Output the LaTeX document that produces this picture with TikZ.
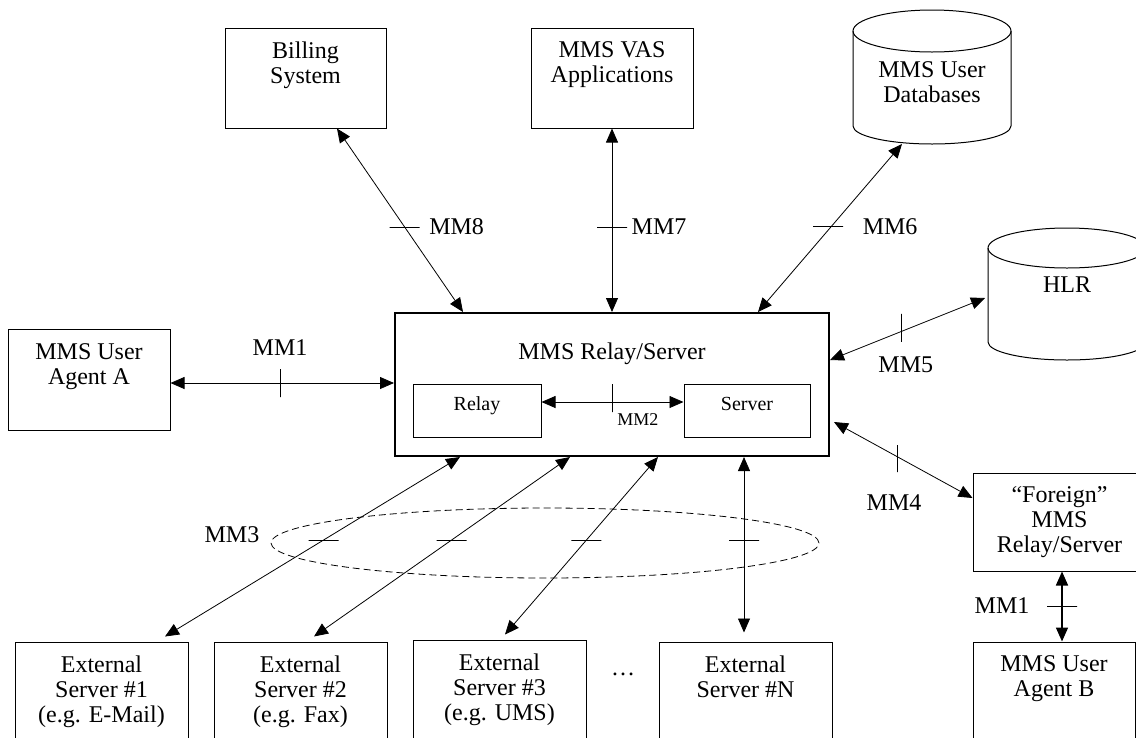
\documentclass[tikz,border=0pt]{standalone}
\usepackage{fontspec}
\setmainfont{Liberation Serif}
\usetikzlibrary{shapes.geometric, arrows.meta, positioning}

\newcommand{\padline}{\rule[-6pt]{0pt}{6pt}}

\begin{document}
\begin{tikzpicture}[
    x=1pt, y=-1pt,
    font=\fontsize{24}{25}\selectfont,
    box/.style={rectangle, draw, line width=1pt, minimum width=162pt, minimum height=100pt, align=center, inner sep=0pt},
    extbox/.style={box, minimum width=173pt},
    mainbox/.style={rectangle, draw, line width=2pt, minimum width=434pt, minimum height=143pt},
    subbox/.style={rectangle, draw, line width=1pt, minimum height=53pt, font=\fontsize{20}{22}\selectfont, text height=14pt, text depth=15pt},
    database/.style={rectangle, minimum width=158pt, minimum height=134pt, inner sep=0pt, outer sep=0pt},
    cylline/.style={line width=1pt},
    arrow/.style={<->, >={Triangle[length=14pt, width=12pt]}, line width=0.8pt},
    hbar/.style={draw, line width=0.8pt, minimum width=30pt, minimum height=0pt, inner sep=0pt},
    vbar/.style={hbar, minimum width=0pt, minimum height=28pt}
]
    \useasboundingbox (0,0) rectangle (1136,737);

    % top row
    \node[box, minimum width=161pt] (billing) at (305.5,78) {Billing\\System\\\padline};
    \node[box] (vas) at (612,78) {MMS VAS\\Applications\\\padline};
    \node[database] (db) at (932,77) {};
    \draw[cylline] ([yshift=-21pt]db.north west) -- ([yshift=18pt]db.south west)
        arc[start angle=180, end angle=360, x radius=79pt, y radius=18pt] -- ([yshift=-21pt]db.north east);
    \draw[cylline] ([yshift=-21pt]db.north) ellipse [x radius=79pt, y radius=21pt];
    \node[align=center] (dbtext) at (932,82) {MMS User\\Databases};

    % middle row
    \node[box, minimum height=101pt] (agentA) at (89,379.5) {MMS User\\Agent A\\\padline};
    \node[mainbox] (relsrv) at (612,384.5) {};
    \node[below=27pt of relsrv.north] (title) {MMS Relay/Server};
    \node[subbox, minimum width=128pt] (relay) at (477,410.5) {Relay};
    \node[subbox, minimum width=126pt] (server) at (747,410.5) {Server};
    \node[database, minimum height=132pt] (hlr) at (1067,294) {};
    \draw[cylline] ([yshift=-20pt]hlr.north west) -- ([yshift=18pt]hlr.south west)
        arc[start angle=180, end angle=360, x radius=79pt, y radius=18pt] -- ([yshift=-20pt]hlr.north east);
    \draw[cylline] ([yshift=-20pt]hlr.north) ellipse [x radius=79pt, y radius=20pt];
    \node (hlrtext) at (1067,285) {HLR};
    \node[extbox, minimum height=98pt] (foreign) at (1059.5,522) {``Foreign''\\MMS\\Relay/Server};

    % external servers
    \node[ellipse, draw, dash pattern=on 7pt off 4pt, line width=0.8pt, minimum width=548pt, minimum height=70pt] (mmthree) at (545,543) {};
    \node (mmthreetext) at (232,535) {MM3};
    \node[extbox] (ext1) at (101.5,692) {External\\Server \#1\\(e.g. E-Mail)};
    \node[extbox] (ext2) at (300.5,692) {External\\Server \#2\\(e.g. Fax)};
    \node[extbox] (ext3) at (499.5,690) {External\\Server \#3\\(e.g. UMS)};
    \node (dots) at (623,674) {\dots};
    \node[extbox] (extN) at (745.5,692) {External\\Server \#N\\\padline};
    \node[box] (agentB) at (1054,692) {MMS User\\Agent B\\\padline};

    % interfaces
    \draw[arrow] ([xshift=31.5pt]billing.south) -- node[pos=.537, hbar] {} node[pos=.537, xshift=52pt] {MM8} ([xshift=-149pt]relsrv.north);
    \draw[arrow] (vas.south) -- node[pos=.537, hbar] {} node[pos=.537, xshift=47pt] {MM7} (relsrv.north);
    \draw[arrow] ([xshift=-30pt]db.south) -- node[pos=.492, hbar, xshift=-3pt] {} node[pos=.492, xshift=59pt] {MM6} ([xshift=146pt]relsrv.north);
    \draw[arrow] ([yshift=24.5pt]relsrv.east) -- node[pos=.463, vbar, yshift=3.5pt] {} node[pos=.463, xshift=4pt, yshift=-33.7pt] {MM5} ([xshift=-3pt, yshift=-4pt]hlr.west);
    \draw[arrow] ([xshift=4pt, yshift=-37.5pt]relsrv.east) -- node[pos=.455, vbar, minimum height=27pt, yshift=-2pt] {} node[pos=.455, xshift=-3pt, yshift=-46.4pt] {MM4} ([yshift=24pt]foreign.west);
    \draw[arrow] ([yshift=-3.5pt]agentA.east) -- node[pos=.49, vbar] {} node[pos=.49, yshift=35pt] {MM1} ([yshift=1.5pt]relsrv.west);
    \draw[arrow] ([yshift=8.5pt]relay.east) -- node[pos=.496, vbar, yshift=4pt] {} node[pos=.496, xshift=26pt, yshift=-18pt, font=\fontsize{18}{20}\selectfont] {MM2} ([yshift=8.5pt]server.west);
    \draw[arrow] ([xshift=-152pt]relsrv.south) -- node[pos=.462, hbar] {} ([xshift=63.5pt, yshift=5pt]ext1.north);
    \draw[arrow] ([xshift=-42pt]relsrv.south) -- node[pos=.462, hbar] {} ([xshift=13.5pt, yshift=5pt]ext2.north);
    \draw[arrow] ([xshift=46pt]relsrv.south) -- node[pos=.468, hbar] {} ([xshift=5.5pt, yshift=5pt]ext3.north);
    \draw[arrow] ([xshift=132pt]relsrv.south) -- node[pos=.473, hbar] {} ([xshift=-1.5pt, yshift=9pt]extN.north);
    \draw[arrow, line width=1.6pt] ([xshift=2.5pt]foreign.south) -- node[pos=.493, hbar] {} node[pos=.493, xshift=-60pt] {MM1} ([xshift=8pt]agentB.north);
\end{tikzpicture}
\end{document}
